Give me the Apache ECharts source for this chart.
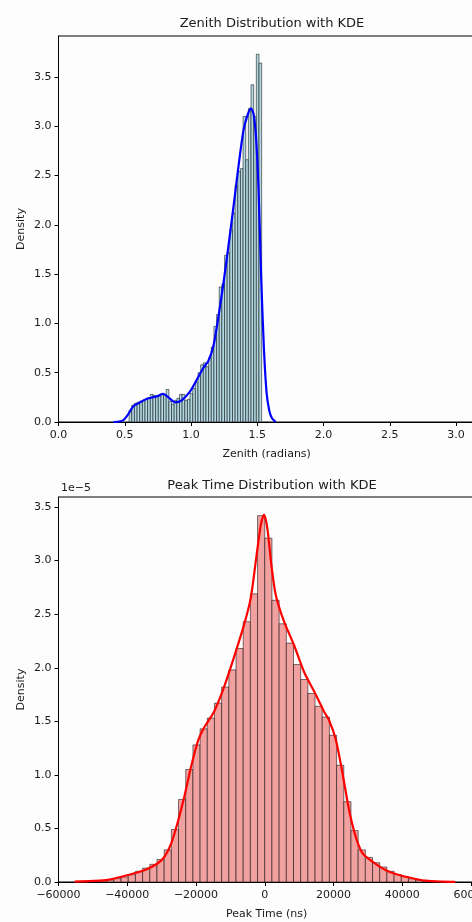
<!DOCTYPE html>
<html>
<head>
<meta charset="utf-8">
<script src="https://cdn.jsdelivr.net/npm/echarts@6/dist/echarts.min.js"></script>
<style>
html,body{margin:0;padding:0;background:#fdfdfd;overflow:hidden;}
#chart{width:480px;height:922px;}
</style>
</head>
<body>
<div id="chart"></div>
<script>
// ---------- Zenith histogram (density) ----------
const zenithBinStart = 0.533;
const zenithBinWidth = 0.02;
const zenithHeights = [
  0.12, 0.17, 0.19, 0.20, 0.21, 0.22, 0.23, 0.24, 0.28, 0.27,
  0.26, 0.26, 0.29, 0.28, 0.33, 0.21, 0.18, 0.22, 0.24, 0.28,
  0.28, 0.22, 0.23, 0.29, 0.34, 0.40, 0.50, 0.58, 0.60, 0.56,
  0.65, 0.76, 0.97, 1.09, 1.37, 1.40, 1.69, 1.72, 1.95, 2.12,
  2.40, 2.54, 2.57, 3.10, 2.66, 3.18, 3.42, 3.10, 3.73, 3.64
];
const zenithKdeX = [0.414, 0.46, 0.49, 0.527, 0.565, 0.616, 0.678, 0.742, 0.79, 0.83, 0.88, 0.93, 0.993, 1.044, 1.094, 1.131, 1.169, 1.207, 1.245, 1.282, 1.32, 1.358, 1.396, 1.426, 1.452, 1.471, 1.49, 1.51, 1.53, 1.55, 1.57, 1.59, 1.61, 1.64];
const zenithKdeY = [0.0, 0.005, 0.02, 0.08, 0.16, 0.20, 0.24, 0.26, 0.285, 0.25, 0.20, 0.22, 0.31, 0.43, 0.55, 0.62, 0.77, 1.07, 1.41, 1.78, 2.18, 2.59, 2.96, 3.11, 3.18, 3.13, 2.90, 2.35, 1.45, 0.75, 0.30, 0.12, 0.04, 0.0];
const zenithXTicks = [0.0, 0.5, 1.0, 1.5, 2.0, 2.5, 3.0];

// ---------- Peak time histogram (density, units of 1e-5) ----------
const peakBinStart = -50160;
const peakBinWidth = 2090;
const peakHeights = [
  0.005, 0.010, 0.019, 0.031, 0.047, 0.068, 0.10, 0.13, 0.165, 0.21,
  0.30, 0.49, 0.77, 1.05, 1.28, 1.43, 1.53, 1.67, 1.82, 1.98,
  2.18, 2.43, 2.69, 3.42, 3.21, 2.63, 2.41, 2.23, 2.03, 1.89,
  1.76, 1.64, 1.54, 1.37, 1.09, 0.75, 0.48, 0.30, 0.23, 0.18,
  0.14, 0.10, 0.07, 0.05, 0.03, 0.016, 0.008, 0.004
];
const peakKdeX = [-55300, -50000, -45600, -39800, -35000, -31100, -29100, -27200, -25300, -23300, -21400, -19400, -17670, -14760, -11850, -8940, -6030, -4080, -2620, -1160, -200, 760, 1920, 3200, 5620, 8530, 11440, 14350, 17260, 18710, 20660, 22590, 24540, 26480, 28420, 31330, 35220, 39100, 42980, 46870, 51700, 55400];
const peakKdeY = [0.004, 0.010, 0.02, 0.065, 0.11, 0.175, 0.24, 0.36, 0.56, 0.81, 1.08, 1.32, 1.44, 1.59, 1.82, 2.10, 2.40, 2.65, 2.99, 3.33, 3.43, 3.30, 2.96, 2.68, 2.43, 2.21, 1.96, 1.78, 1.59, 1.51, 1.33, 1.02, 0.67, 0.42, 0.27, 0.19, 0.11, 0.065, 0.035, 0.012, 0.004, 0.002];
const peakXTicks = [-60000, -40000, -20000, 0, 20000, 40000, 60000];

const yTicks = [0.0, 0.5, 1.0, 1.5, 2.0, 2.5, 3.0, 3.5];

function binsToData(start, width, heights) {
  return heights.map((h, i) => [start + i * width, start + (i + 1) * width, h]);
}
function zip(xs, ys) { return xs.map((x, i) => [x, ys[i]]); }

const FONT = 'DejaVu Sans';
const TXT = '#1a1a1a';

function histRender(fill) {
  return function (params, api) {
    const p0 = api.coord([api.value(0), api.value(2)]);
    const p1 = api.coord([api.value(1), 0]);
    return {
      type: 'rect',
      shape: { x: p0[0], y: p0[1], width: p1[0] - p0[0], height: p1[1] - p0[1] },
      style: { fill: fill, stroke: 'rgba(0,0,0,0.75)', lineWidth: 0.7 }
    };
  };
}

function isTick(v, list) { return list.some(t => Math.abs(t - v) < 1e-9 * Math.max(1, Math.abs(t))); }
function fmtNum(v, dec) {
  const s = dec >= 0 ? v.toFixed(dec) : String(Math.round(v));
  return s.replace('-', '\u2212');
}

function xAxisCfg(grid, min, max, interval, ticks, name, dec) {
  return {
    type: 'value', gridIndex: grid, min: min, max: max, interval: interval,
    name: name, nameLocation: 'middle', nameGap: 27, nameMoveOverlap: false,
    nameTextStyle: { fontFamily: FONT, fontSize: 11, color: TXT },
    axisLine: { show: true, onZero: false, lineStyle: { color: '#000', width: 1 } },
    axisTick: { show: true, length: 4, inside: false, lineStyle: { color: '#000' } },
    axisLabel: {
      fontFamily: FONT, fontSize: 11, color: TXT, margin: 8,
      formatter: v => isTick(v, ticks) ? fmtNum(v, dec) : ''
    },
    splitLine: { show: false }
  };
}
function yAxisCfg(grid, max) {
  return {
    type: 'value', gridIndex: grid, min: 0, max: max, interval: 0.5,
    name: 'Density', nameLocation: 'middle', nameGap: 32, nameMoveOverlap: false,
    nameTextStyle: { fontFamily: FONT, fontSize: 11, color: TXT },
    axisLine: { show: true, onZero: false, lineStyle: { color: '#000', width: 1 } },
    axisTick: { show: true, length: 4, lineStyle: { color: '#000' } },
    axisLabel: {
      fontFamily: FONT, fontSize: 11, color: TXT, margin: 7, showMaxLabel: false,
      formatter: v => isTick(v, yTicks) ? v.toFixed(1) : ''
    },
    splitLine: { show: false }
  };
}

const chart = echarts.init(document.getElementById('chart'), null, { renderer: 'canvas' });
chart.setOption({
  backgroundColor: '#fdfdfd',
  animation: false,
  title: [
    { text: 'Zenith Distribution with KDE', left: 267, top: 12, textAlign: 'center',
      textStyle: { fontFamily: FONT, fontSize: 13, fontWeight: 'normal', color: TXT } },
    { text: 'Peak Time Distribution with KDE', left: 267, top: 474, textAlign: 'center',
      textStyle: { fontFamily: FONT, fontSize: 13, fontWeight: 'normal', color: TXT } }
  ],
  graphic: [
    { type: 'text', left: 61, top: 483, style: { text: '1e\u22125', fontFamily: FONT, fontSize: 11, fill: TXT } }
  ],
  grid: [
    { left: 58.5, right: 5.2, top: 36, height: 386, show: true, borderColor: '#000', borderWidth: 1,
      backgroundColor: 'transparent', containLabel: false, outerBoundsMode: 'none' },
    { left: 58.5, right: 5.2, top: 497, height: 385, show: true, borderColor: '#000', borderWidth: 1,
      backgroundColor: 'transparent', containLabel: false, outerBoundsMode: 'none' }
  ],
  xAxis: [
    xAxisCfg(0, 0, Math.PI, 0.5, zenithXTicks, 'Zenith (radians)', 1),
    xAxisCfg(1, -60000, 61100, 20000, peakXTicks, 'Peak Time (ns)', -1)
  ],
  yAxis: [
    yAxisCfg(0, 3.915),
    yAxisCfg(1, 3.594)
  ],
  series: [
    { type: 'custom', xAxisIndex: 0, yAxisIndex: 0, renderItem: histRender('#b2d8e2'),
      data: binsToData(zenithBinStart, zenithBinWidth, zenithHeights), encode: { x: [0, 1], y: 2 }, clip: true },
    { type: 'line', xAxisIndex: 0, yAxisIndex: 0, data: zip(zenithKdeX, zenithKdeY), showSymbol: false,
      smooth: 0.25, lineStyle: { color: '#0000ff', width: 2.2 }, z: 5 },
    { type: 'custom', xAxisIndex: 1, yAxisIndex: 1, renderItem: histRender('#f2a1a1'),
      data: binsToData(peakBinStart, peakBinWidth, peakHeights), encode: { x: [0, 1], y: 2 }, clip: true },
    { type: 'line', xAxisIndex: 1, yAxisIndex: 1, data: zip(peakKdeX, peakKdeY), showSymbol: false,
      smooth: 0.25, lineStyle: { color: '#ff0000', width: 2.2 }, z: 5 }
  ]
});
</script>
</body>
</html>
